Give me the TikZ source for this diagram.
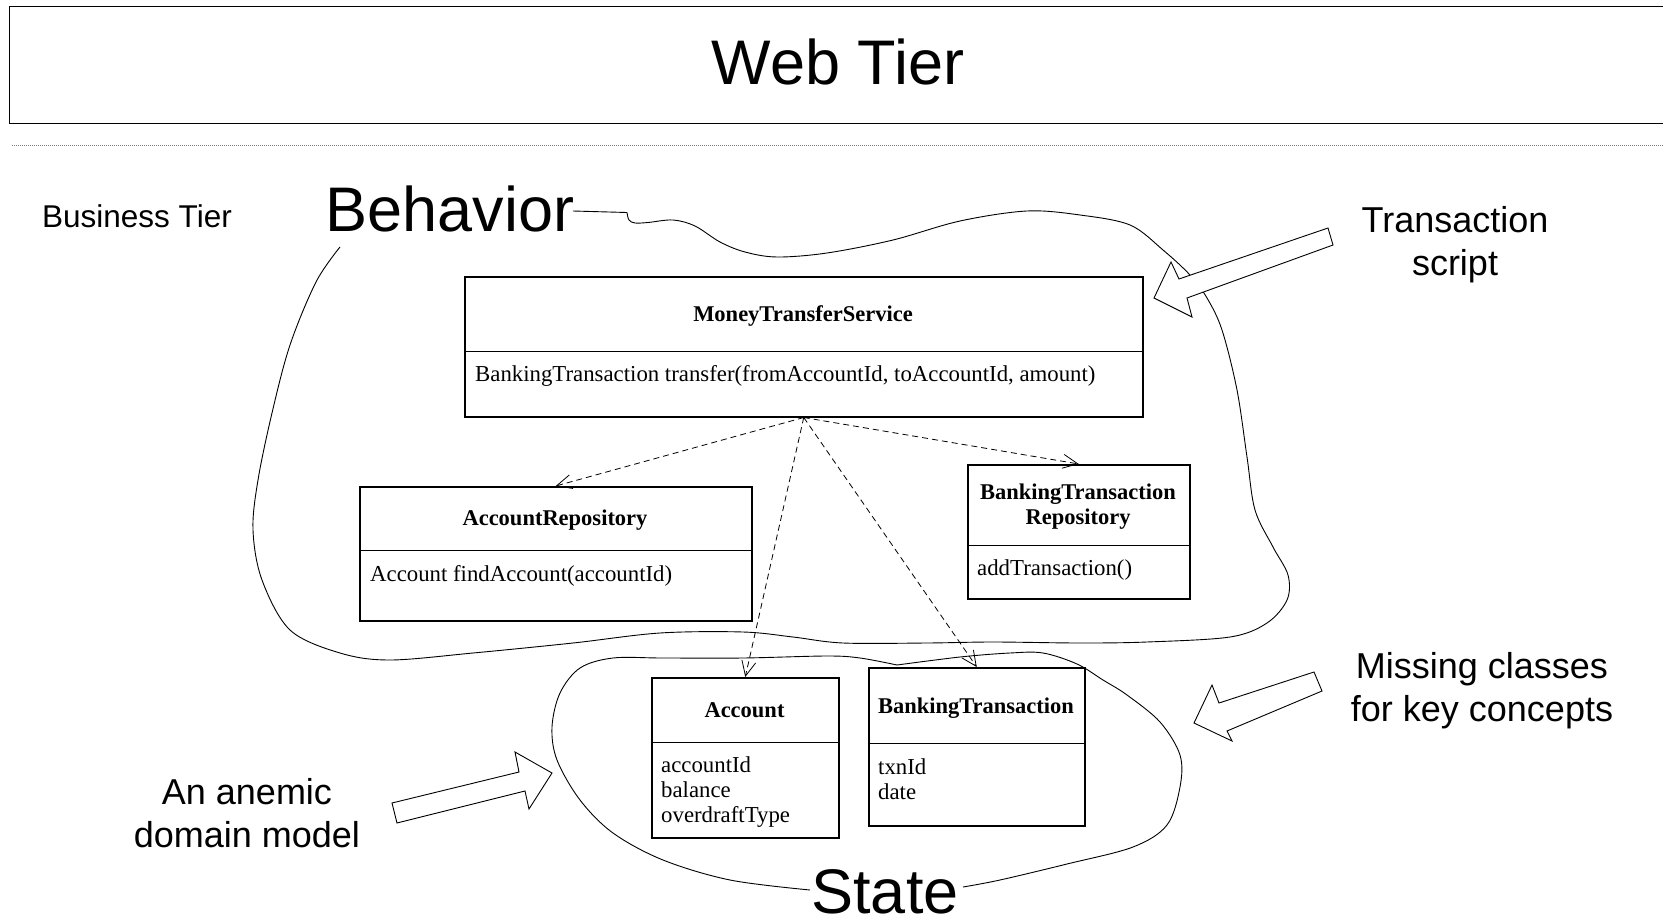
\documentclass[tikz,border=0pt]{standalone}
\usepackage{fontspec}
\setmainfont{Liberation Sans}
\newfontfamily\umlfont{Liberation Serif}
\usetikzlibrary{arrows.meta}
\newcommand\myfs[1]{\fontsize{#1}{#1}\selectfont}
\begin{document}
\begin{tikzpicture}[x=1pt,y=-1pt,
  lbl/.style={inner sep=0pt, anchor=base, font=\myfs{36}},
  big/.style={inner sep=0pt, anchor=base, font=\myfs{63}},
  cls/.style={draw, line width=1.5pt, fill=white, inner sep=0pt, anchor=north west},
  div/.style={line width=1pt},
  ttl/.style={inner sep=0pt, anchor=base, font=\umlfont\bfseries\myfs{22.5}},
  mem/.style={inner sep=0pt, anchor=base west, font=\umlfont\myfs{22.8}},
  dep/.style={dash pattern=on 6pt off 4pt, line width=0.8pt, -{Straight Barb[length=15pt,width=14pt]}},
  blob/.style={line width=0.9pt},
  blk/.style={draw, fill=white, line width=0.9pt, line join=miter}]
\useasboundingbox[fill=white] (0,0) rectangle (1663,918);

% Web tier
\node[draw, line width=1.3pt, minimum width=1700pt, minimum height=117pt, inner sep=0pt, anchor=north west] (web) at (9,6) {};
\node[big] (webt) at (838,84) {Web Tier};
\draw[gray, line width=1pt, dash pattern=on 1pt off 1pt] (12,145) -- (1663,145);

\node[inner sep=0pt, anchor=base, font=\myfs{31.5}] (bt) at (137,227) {Business Tier};

% Behavior blob
\draw[blob] (573,211) -- (627,212.5)
  plot[smooth, tension=0.55] coordinates {(627,212.5) (629,220) (635,223) (648,222.5) (673,220) (695,226) (720,242) (745,252) (777,257) (827,253) (893,240) (960,221) (1027,211) (1080,215) (1130,225) (1163,250) (1190,275) (1207,298) (1222,330) (1237,390) (1247,457) (1255,510) (1273,547) (1288,575) (1287,600) (1267,623) (1230,637) (1147,642) (1080,643) (993,642) (927,643) (843,643) (793,637) (743,632) (660,633) (573,643) (473,653) (390,660) (340,653) (290,630) (262,580) (253,530) (258,480) (272,413) (290,345) (316,282) (340,247)};

% State blob
\draw[blob] plot[smooth, tension=0.55] coordinates {(810,890) (730,880) (663,860) (613,833) (580,800) (557,760) (552,727) (560,693) (580,668) (613,658) (663,658) (743,658) (827,656) (860,658) (897,665)};
\draw[blob] plot[smooth, tension=0.55] coordinates {(897,665) (960,657) (1010,653) (1043,653) (1077,664) (1103,680) (1127,695) (1160,722) (1180,755) (1180,787) (1167,825) (1133,847) (1067,864) (1000,880) (963,887)};

\node[big] (beh) at (450,231) {Behavior};
\node[big] (state) at (885,913) {State};

% Classes
\node[cls, minimum width=678pt, minimum height=140pt] (mts) at (464,276) {};
\draw[div] (464,351) -- (1142,351);
\node[ttl] (mtst) at (803,321) {MoneyTransferService};
\node[mem] (mtsm) at (475,381) {BankingTransaction transfer(fromAccountId, toAccountId, amount)};

\node[cls, minimum width=392pt, minimum height=134pt] (ar) at (359,486) {};
\draw[div] (359,550) -- (751,550);
\node[ttl] (art) at (555,525) {AccountRepository};
\node[mem] (arm) at (370,581) {Account findAccount(accountId)};

\node[cls, minimum width=222pt, minimum height=134pt] (btr) at (967,464) {};
\draw[div] (967,545) -- (1189,545);
\node[ttl] (btrt1) at (1078,499) {BankingTransaction};
\node[ttl] (btrt2) at (1078,524) {Repository};
\node[mem] (btrm) at (977,575) {addTransaction()};

\node[cls, minimum width=187pt, minimum height=160pt] (acc) at (651,677) {};
\draw[div] (651,742) -- (838,742);
\node[ttl] (acct) at (744.5,717) {Account};
\node[mem] (acc1) at (661,772) {accountId};
\node[mem] (acc2) at (661,797) {balance};
\node[mem] (acc3) at (661,822) {overdraftType};

\node[cls, minimum width=216pt, minimum height=158pt] (btx) at (868,667) {};
\draw[div] (868,743) -- (1084,743);
\node[ttl] (btxt) at (976,713) {BankingTransaction};
\node[mem] (btx1) at (878,774) {txnId};
\node[mem] (btx2) at (878,799) {date};

% Dependencies
\draw[dep] (mts.south) -- (ar.north);
\draw[dep] (mts.south) -- (btr.north);
\draw[dep] (mts.south) -- (acc.north);
\draw[dep] (mts.south) -- (btx.north);

% Block arrows
\draw[blk] (1328,228) -- (1179,279) -- (1171,262) -- (1154,298) -- (1192,317) -- (1187,298) -- (1333,245) -- cycle;
\draw[blk] (1314,672) -- (1219,703) -- (1212,685) -- (1194,723) -- (1232,741) -- (1227,731) -- (1322,691) -- cycle;
\draw[blk] (392,803) -- (519,772) -- (515,752) -- (552,773) -- (529,809) -- (525,791) -- (397,823) -- cycle;

% Annotations
\node[lbl] (ts1) at (1455,232) {Transaction};
\node[lbl] (ts2) at (1455,275) {script};
\node[lbl] (mc1) at (1482,678) {Missing classes};
\node[lbl] (mc2) at (1482,721) {for key concepts};
\node[lbl] (an1) at (247,804) {An anemic};
\node[lbl] (an2) at (247,847) {domain model};
\end{tikzpicture}
\end{document}
